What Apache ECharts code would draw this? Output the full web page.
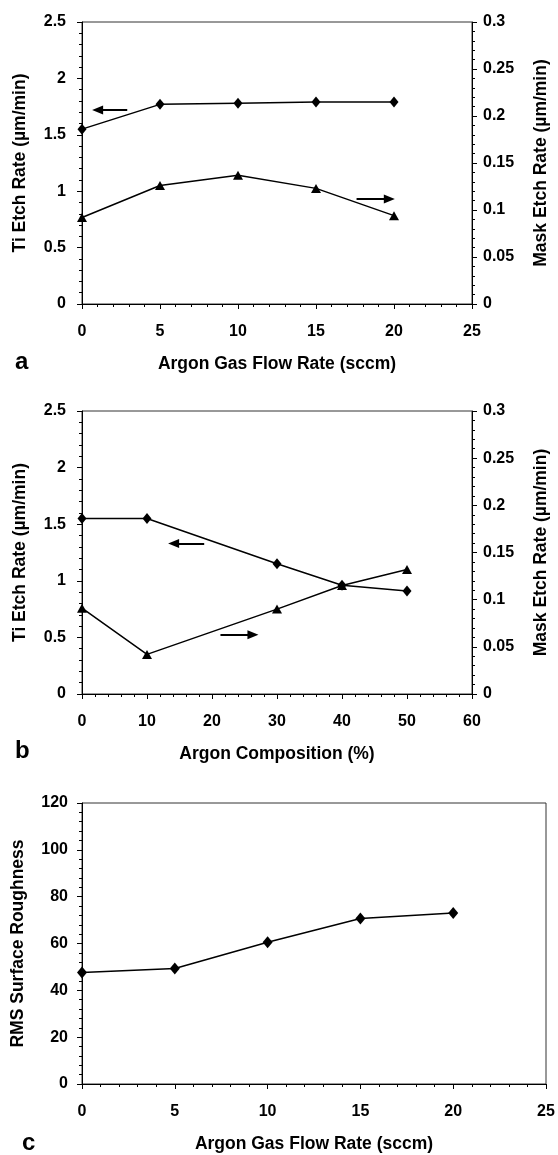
<!DOCTYPE html>
<html>
<head>
<meta charset="utf-8">
<script src="https://cdn.jsdelivr.net/npm/echarts@6/dist/echarts.min.js"></script>
<style>html,body{margin:0;padding:0;background:#fff;}#chart{width:558px;height:1155px;}</style>
</head>
<body>
<div id="chart"></div>
<script>
// ---- data ----
const flowRate = [0, 5, 10, 15, 20];                 // sccm (panels a, c)
const tiEtchA = [1.55, 1.77, 1.78, 1.79, 1.79];      // µm/min, left axis
const maskEtchA = [0.092, 0.126, 0.137, 0.123, 0.094]; // µm/min, right axis
const argonComp = [0, 10, 30, 40, 50];               // % (panel b)
const tiEtchB = [1.55, 1.55, 1.15, 0.96, 0.91];
const maskEtchB = [0.091, 0.042, 0.090, 0.115, 0.132];
const rmsRough = [47.6, 49.3, 60.5, 70.7, 73.0];     // panel c
// annotation arrows (data coordinates: [from, to])
const arrowTiA = [[2.9, 1.72], [1.0, 1.72]];
const arrowMaskA = [[17.6, 0.1116], [19.7, 0.1116]];
const arrowTiB = [[18.8, 1.33], [14.1, 1.33]];
const arrowMaskB = [[21.3, 0.0628], [26.3, 0.0628]];

const FONT = "'Liberation Sans', Arial, sans-serif";
const pairs = (xs, ys) => xs.map((x, i) => [x, ys[i]]);

function xAx(gridIndex, max, interval, name) {
  return {
    type: 'value', gridIndex, min: 0, max, interval,
    name, nameLocation: 'middle', nameGap: 51,
    nameTextStyle: { fontFamily: FONT, fontSize: 17.5, fontWeight: 'bold', color: '#000' },
    axisLine: { show: true, onZero: false, lineStyle: { color: '#000', width: 1 } },
    axisTick: { show: true, length: 5, lineStyle: { color: '#000' } },
    minorTick: { show: true, splitNumber: 5, length: 3, lineStyle: { color: '#000' } },
    axisLabel: { fontFamily: FONT, fontSize: 16, fontWeight: 'bold', color: '#000', margin: 20 },
    splitLine: { show: false }
  };
}
function yAx(gridIndex, max, interval, name, position, gap, margin) {
  return {
    type: 'value', gridIndex, min: 0, max, interval, position,
    name, nameLocation: 'middle', nameGap: gap, nameRotate: 90,
    nameTextStyle: { fontFamily: FONT, fontSize: 17.5, fontWeight: 'bold', color: '#000' },
    axisLine: { show: true, onZero: false, lineStyle: { color: '#000', width: 1 } },
    axisTick: { show: true, length: 5, lineStyle: { color: '#000' } },
    minorTick: { show: true, splitNumber: 5, length: 3, lineStyle: { color: '#000' } },
    axisLabel: { fontFamily: FONT, fontSize: 16, fontWeight: 'bold', color: '#000', margin },
    splitLine: { show: false }
  };
}
function arrow(seg) {
  return {
    silent: true, symbol: ['none', 'triangle'], symbolSize: [9, 11],
    label: { show: false },
    lineStyle: { color: '#000', width: 2, type: 'solid' },
    emphasis: { disabled: true },
    data: [[{ coord: seg[0] }, { coord: seg[1] }]]
  };
}
function line(xi, yi, data, symbol, size, seg) {
  const s = {
    type: 'line', xAxisIndex: xi, yAxisIndex: yi, data,
    symbol, symbolSize: size, showSymbol: true,
    lineStyle: { color: '#000', width: 1.5 },
    itemStyle: { color: '#000' },
    animation: false, z: 3
  };
  if (seg) s.markLine = arrow(seg);
  return s;
}

const gridStyle = { show: true, borderColor: '#333', borderWidth: 1, backgroundColor: 'transparent' };
const option = {
  backgroundColor: '#fff',
  animation: false,
  grid: [
    Object.assign({ left: 82, top: 22, width: 396, height: 282 }, gridStyle),
    Object.assign({ left: 82, top: 411, width: 396, height: 283 }, gridStyle),
    Object.assign({ left: 82, top: 803, width: 464, height: 281 }, gridStyle)
  ],
  xAxis: [
    xAx(0, 25, 5, 'Argon Gas Flow Rate (sccm)'),
    xAx(1, 60, 10, 'Argon Composition (%)'),
    xAx(2, 25, 5, 'Argon Gas Flow Rate (sccm)')
  ],
  yAxis: [
    yAx(0, 2.5, 0.5, 'Ti Etch Rate (µm/min)', 'left', 53, 16),
    yAx(0, 0.3, 0.05, 'Mask Etch Rate (µm/min)', 'right', 60, 11),
    yAx(1, 2.5, 0.5, 'Ti Etch Rate (µm/min)', 'left', 53, 16),
    yAx(1, 0.3, 0.05, 'Mask Etch Rate (µm/min)', 'right', 60, 11),
    yAx(2, 120, 20, 'RMS Surface Roughness', 'left', 55, 14)
  ],
  series: [
    line(0, 0, pairs(flowRate, tiEtchA), 'diamond', [9, 11], arrowTiA),
    line(0, 1, pairs(flowRate, maskEtchA), 'triangle', [10, 9], arrowMaskA),
    line(1, 2, pairs(argonComp, tiEtchB), 'diamond', [9, 11], arrowTiB),
    line(1, 3, pairs(argonComp, maskEtchB), 'triangle', [10, 9], arrowMaskB),
    line(2, 4, pairs(flowRate, rmsRough), 'diamond', [10, 12], null)
  ],
  graphic: [
    { type: 'text', left: 15, top: 350, style: { text: 'a', font: 'bold 24px ' + FONT, fill: '#000' } },
    { type: 'text', left: 15, top: 739, style: { text: 'b', font: 'bold 24px ' + FONT, fill: '#000' } },
    { type: 'text', left: 22, top: 1131, style: { text: 'c', font: 'bold 24px ' + FONT, fill: '#000' } }
  ]
};
const chart = echarts.init(document.getElementById('chart'), null, { renderer: 'canvas' });
chart.setOption(option);
</script>
</body>
</html>
